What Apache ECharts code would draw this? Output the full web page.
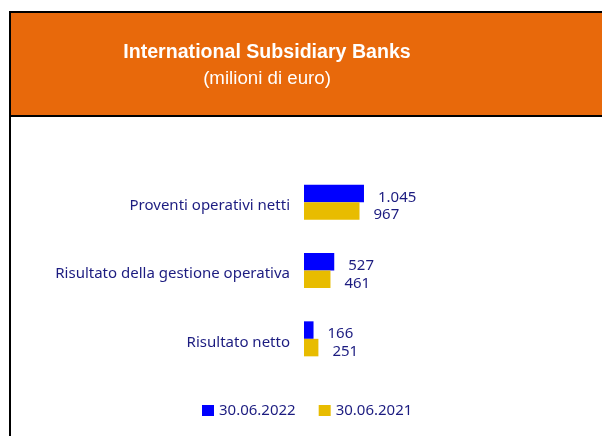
<!DOCTYPE html>
<html>
<head>
<meta charset="utf-8">
<script src="https://cdn.jsdelivr.net/npm/echarts@6/dist/echarts.min.js"></script>
<style>
  html, body { margin: 0; padding: 0; background: #fff; }
  #chart { width: 602px; height: 436px; }
</style>
</head>
<body>
<div id="chart"></div>
<script>
// data
const categories = ['Proventi operativi netti', 'Risultato della gestione operativa', 'Risultato netto'];
const seriesNames = ['30.06.2022', '30.06.2021'];
const values2022 = [1045, 527, 166];
const values2021 = [967, 461, 251];

const navy = '#1c1c80';
const fmt = (v) => String(v).replace(/\B(?=(\d{3})+(?!\d))/g, '.');

const chart = echarts.init(document.getElementById('chart'));

const labelStyle = {
  show: true,
  position: 'right',
  distance: 14,
  offset: [0, 4],
  color: navy,
  fontFamily: '"Noto Sans", sans-serif',
  fontSize: 15,
  formatter: (p) => fmt(p.value)
};

const option = {
  animation: false,
  graphic: [
    { type: 'rect', shape: { x: 10, y: 12, width: 600, height: 104 }, style: { fill: '#e8690b' }, z: 0 },
    { type: 'line', shape: { x1: 9, y1: 12, x2: 602, y2: 12 }, style: { stroke: '#000', lineWidth: 2 } },
    { type: 'line', shape: { x1: 10, y1: 11, x2: 10, y2: 436 }, style: { stroke: '#000', lineWidth: 2 } },
    { type: 'line', shape: { x1: 10, y1: 116, x2: 602, y2: 116 }, style: { stroke: '#000', lineWidth: 2 } },
    {
      type: 'text', x: 267, y: 53,
      style: {
        text: 'International Subsidiary Banks', fill: '#fff',
        font: 'bold 19.6px "Liberation Sans", Arial, sans-serif',
        align: 'center', verticalAlign: 'middle'
      }
    },
    {
      type: 'text', x: 267, y: 79,
      style: {
        text: '(milioni di euro)', fill: '#fff',
        font: '18.7px "Liberation Sans", Arial, sans-serif',
        align: 'center', verticalAlign: 'middle'
      }
    }
  ],
  legend: {
    data: seriesNames,
    left: 197,
    top: 398,
    itemWidth: 12,
    itemHeight: 11,
    itemGap: 23,
    icon: 'rect',
    textStyle: { color: navy, fontFamily: '"Noto Sans", sans-serif', fontSize: 15, padding: [4, 0, 0, 0] }
  },
  grid: { left: 304, top: 168, width: 287, height: 205 },
  xAxis: { type: 'value', min: 0, max: 5000, show: false },
  yAxis: {
    type: 'category',
    inverse: true,
    data: categories,
    axisLine: { show: false },
    axisTick: { show: false },
    axisLabel: {
      margin: 14,
      verticalAlign: 'top',
      lineHeight: 7,
      color: navy,
      fontFamily: '"Noto Sans", sans-serif',
      fontSize: 15
    }
  },
  series: [
    { name: seriesNames[0], type: 'bar', data: values2022, barWidth: 17.5, barGap: 0,
      itemStyle: { color: '#0000ff' }, label: labelStyle },
    { name: seriesNames[1], type: 'bar', data: values2021, barWidth: 17.5, barGap: 0,
      itemStyle: { color: '#e8bc00' }, label: labelStyle }
  ]
};

chart.setOption(option);
</script>
</body>
</html>
